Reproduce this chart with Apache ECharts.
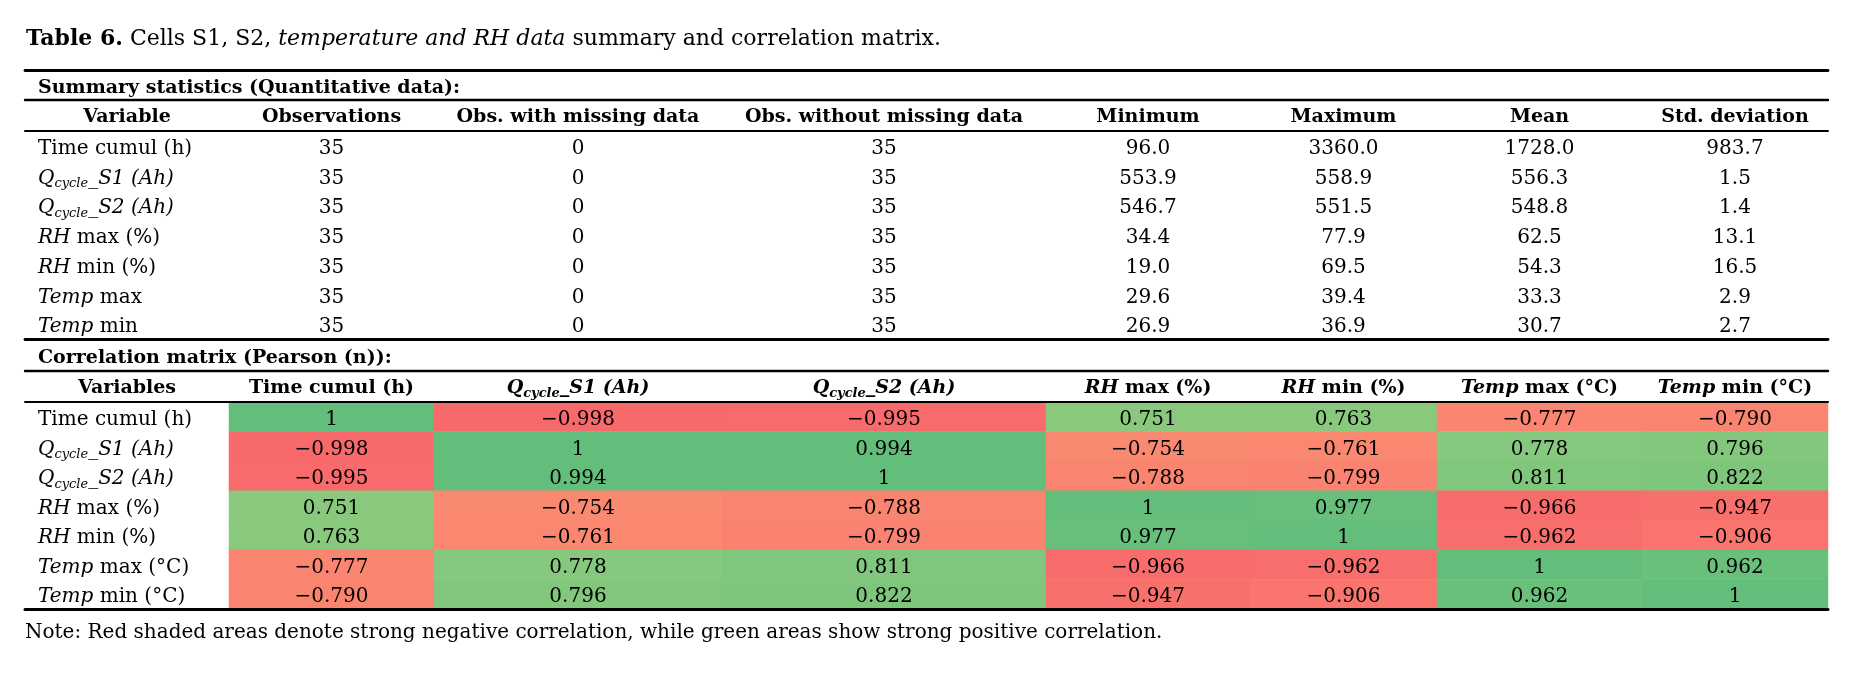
<!DOCTYPE html>
<html>
<head>
<meta charset="utf-8">
<script src="https://cdn.jsdelivr.net/npm/echarts@6/dist/echarts.min.js"></script>
<style>
html,body{margin:0;padding:0;background:#fff;}
#chart{width:1860px;height:673px;}
</style>
</head>
<body>
<div id="chart"></div>
<script>
// ---------------- data ----------------
const summaryHeaders = ['Variable', 'Observations', 'Obs. with missing data', 'Obs. without missing data', 'Minimum', 'Maximum', 'Mean', 'Std. deviation'];
const summaryVars = ['Time cumul (h)', 'Qcycle_S1 (Ah)', 'Qcycle_S2 (Ah)', 'RH max (%)', 'RH min (%)', 'Temp max', 'Temp min'];
const observations = [35, 35, 35, 35, 35, 35, 35];
const obsMissing = [0, 0, 0, 0, 0, 0, 0];
const obsWithoutMissing = [35, 35, 35, 35, 35, 35, 35];
const minimum = [96.0, 553.9, 546.7, 34.4, 19.0, 29.6, 26.9];
const maximum = [3360.0, 558.9, 551.5, 77.9, 69.5, 39.4, 36.9];
const mean = [1728.0, 556.3, 548.8, 62.5, 54.3, 33.3, 30.7];
const stdDeviation = [983.7, 1.5, 1.4, 13.1, 16.5, 2.9, 2.7];

const corrHeaderFirst = 'Variables';
const corrVars = ['Time cumul (h)', 'Qcycle_S1 (Ah)', 'Qcycle_S2 (Ah)', 'RH max (%)', 'RH min (%)', 'Temp max (°C)', 'Temp min (°C)'];
const corrTime = [1, -0.998, -0.995, 0.751, 0.763, -0.777, -0.790];
const corrQS1 = [-0.998, 1, 0.994, -0.754, -0.761, 0.778, 0.796];
const corrQS2 = [-0.995, 0.994, 1, -0.788, -0.799, 0.811, 0.822];
const corrRHmax = [0.751, -0.754, -0.788, 1, 0.977, -0.966, -0.947];
const corrRHmin = [0.763, -0.761, -0.799, 0.977, 1, -0.962, -0.906];
const corrTmax = [-0.777, 0.778, 0.811, -0.966, -0.962, 1, 0.962];
const corrTmin = [-0.790, 0.796, 0.822, -0.947, -0.906, 0.962, 1];
const corrMatrix = [corrTime, corrQS1, corrQS2, corrRHmax, corrRHmin, corrTmax, corrTmin];

const summaryTitle = 'Summary statistics (Quantitative data):';
const corrTitle = 'Correlation matrix (Pearson (n)):';
const titleText = 'Cells S1, S2, ';
const noteText = 'Note: Red shaded areas denote strong negative correlation, while green areas show strong positive correlation.';

// ---------------- layout / style ----------------
const FONT = 'DejaVu Serif';
const FS = 20;      // regular text
const FSB = 19;     // bold text
const SUB = 13;
const TFS = 22;     // caption
const COL_EDGES = [25, 229, 434, 722, 1046, 1250, 1437, 1642, 1828];
const TABLE_W = COL_EDGES[8] - COL_EDGES[0];
// vertical bands of the table (title, header+data blocks)
const BAND = {
  sumTitle: {top: 70, height: 30},
  sumData: {top: 131, height: 208},
  corTitle: {top: 339, height: 32},
  corData: {top: 402, height: 207}
};
const RULE = {top: 2.8, mid: 2.4, head: 2.0, bottom: 3.0};
const TXT_DY = 3;

const base = {fontFamily: FONT, fontSize: FS, color: '#000', lineHeight: 24, fontWeight: 'normal'};
const RICH = {
  n: Object.assign({}, base),
  i: Object.assign({}, base, {fontStyle: 'italic'}),
  s: Object.assign({}, base, {fontStyle: 'italic', fontSize: SUB, lineHeight: 16, verticalAlign: 'bottom'}),
  b: Object.assign({}, base, {fontWeight: 'bold', fontSize: FSB}),
  bi: Object.assign({}, base, {fontWeight: 'bold', fontStyle: 'italic', fontSize: FSB}),
  bs: Object.assign({}, base, {fontWeight: 'bold', fontStyle: 'italic', fontSize: SUB, lineHeight: 16, verticalAlign: 'bottom'})
};

function varMarkup(name, bold) {
  const I = bold ? 'bi' : 'i', S = bold ? 'bs' : 's', N = bold ? 'b' : 'n';
  let m;
  if ((m = name.match(/^Qcycle(_.*)$/))) return '{' + I + '|Q}{' + S + '|cycle}{' + I + '|' + m[1] + '}';
  if ((m = name.match(/^(RH|Temp)( .*)$/))) return '{' + I + '|' + m[1] + '}{' + N + '|' + m[2] + '}';
  return '{' + N + '|' + name + '}';
}
function fmtCorr(v) {
  if (v === 1) return '1';
  return (v < 0 ? '\u2212' : '') + Math.abs(v).toFixed(3);
}
const summaryCols = [observations, obsMissing, obsWithoutMissing, minimum, maximum, mean, stdDeviation];
function fmtSummary(colIdx, v) {
  return colIdx < 3 ? String(v) : v.toFixed(1);
}

const grids = [], xAxes = [], yAxes = [], series = [];
const heatIdx = [];
const hidden = {axisLine: {show: false}, axisTick: {show: false}, splitLine: {show: false}};

function addGrid(g) { grids.push(g); return grids.length - 1; }
function ruleAxis(gi, position, width) {
  xAxes.push({
    type: 'category', gridIndex: gi, position: position, data: ['rule'], z: 10,
    axisLine: {show: true, onZero: false, lineStyle: {color: '#000', width: width}},
    axisTick: {show: false}, axisLabel: {show: false}, splitLine: {show: false}
  });
  return xAxes.length - 1;
}
function textYAxis(gi, labels, showLabels) {
  yAxes.push(Object.assign({
    type: 'category', gridIndex: gi, data: labels, inverse: true, show: true,
    axisLabel: {
      show: showLabels, inside: true, margin: 13, interval: 0,
      padding: [TXT_DY * 2, 0, 0, 0], rich: RICH
    }
  }, hidden));
  return yAxes.length - 1;
}

// ---- frame bands: section titles and horizontal rules ----
[['sumTitle', '{b|' + summaryTitle + '}', [RULE.top, RULE.mid]],
 ['corTitle', '{b|' + corrTitle + '}', [RULE.top, RULE.mid]]].forEach(([key, label, w]) => {
  const gi = addGrid({left: COL_EDGES[0], width: TABLE_W, top: BAND[key].top, height: BAND[key].height});
  const xi = ruleAxis(gi, 'top', w[0]);
  ruleAxis(gi, 'bottom', w[1]);
  const yi = textYAxis(gi, [label], true);
  series.push({type: 'scatter', xAxisIndex: xi, yAxisIndex: yi, data: [], silent: true});
});
[['sumData', false], ['corData', true]].forEach(([key, withBottom]) => {
  const gi = addGrid({left: COL_EDGES[0], width: TABLE_W, top: BAND[key].top, height: BAND[key].height});
  const xi = ruleAxis(gi, 'top', RULE.head);
  if (withBottom) ruleAxis(gi, 'bottom', RULE.bottom);
  const yi = textYAxis(gi, ['frame'], false);
  series.push({type: 'scatter', xAxisIndex: xi, yAxisIndex: yi, data: [], silent: true});
});

// ---- column grids ----
for (let c = 0; c < 8; c++) {
  const left = COL_EDGES[c], width = COL_EDGES[c + 1] - COL_EDGES[c];
  // summary block
  {
    const gi = addGrid({left: left, width: width, top: BAND.sumData.top, height: BAND.sumData.height});
    xAxes.push(Object.assign({
      type: 'category', gridIndex: gi, position: 'top', data: [summaryHeaders[c]],
      axisLabel: {show: true, margin: 2, interval: 0, formatter: v => '{b|' + v + '}', rich: RICH}
    }, hidden));
    const xi = xAxes.length - 1;
    const yi = textYAxis(gi, summaryVars.map(v => varMarkup(v, false)), c === 0);
    const texts = c === 0 ? [] : summaryCols[c - 1].map((v, r) => [0, r, '{n|' + fmtSummary(c - 1, v) + '}']);
    series.push({
      type: 'scatter', xAxisIndex: xi, yAxisIndex: yi, symbolSize: 0, silent: true, z: 5,
      itemStyle: {color: 'transparent', opacity: 1},
      data: texts,
      label: {show: true, position: 'inside', offset: [0, TXT_DY], color: '#000', formatter: p => p.value[2], rich: RICH}
    });
  }
  // correlation block
  {
    const gi = addGrid({left: left, width: width, top: BAND.corData.top, height: BAND.corData.height});
    const head = c === 0 ? '{b|' + corrHeaderFirst + '}' : varMarkup(corrVars[c - 1], true);
    xAxes.push(Object.assign({
      type: 'category', gridIndex: gi, position: 'top', data: [c === 0 ? corrHeaderFirst : corrVars[c - 1]],
      axisLabel: {show: true, margin: 2, interval: 0, formatter: () => head, rich: RICH}
    }, hidden));
    const xi = xAxes.length - 1;
    const yi = textYAxis(gi, corrVars.map(v => varMarkup(v, false)), c === 0);
    if (c >= 1) {
      heatIdx.push(series.length);
      series.push({
        type: 'heatmap', xAxisIndex: xi, yAxisIndex: yi, silent: true, z: 2,
        data: corrMatrix.map((row, r) => [0, r, row[c - 1]]),
        itemStyle: {borderWidth: 0},
        label: {show: true, offset: [0, TXT_DY], formatter: p => '{n|' + fmtCorr(p.value[2]) + '}', rich: RICH}
      });
    } else {
      series.push({type: 'scatter', xAxisIndex: xi, yAxisIndex: yi, data: [], silent: true});
    }
  }
}

const option = {
  backgroundColor: '#fff',
  animation: false,
  title: [
    {left: 26, top: 28, padding: 0,
      text: '{b|Table 6.}{n| ' + titleText + '}{i|temperature and RH data}{n| summary and correlation matrix.}',
      textStyle: {fontWeight: 'normal', rich: {
        n: {fontFamily: FONT, fontSize: TFS, color: '#000', fontWeight: 'normal'},
        i: {fontFamily: FONT, fontSize: TFS, color: '#000', fontStyle: 'italic', fontWeight: 'normal'},
        b: {fontFamily: FONT, fontSize: TFS, color: '#000', fontWeight: 'bold'}
      }}},
    {left: 25, top: 623, padding: 0, text: noteText, textStyle: {fontFamily: FONT, fontSize: FS, fontWeight: 'normal', color: '#000'}}
  ],
  grid: grids,
  xAxis: xAxes,
  yAxis: yAxes,
  visualMap: {
    type: 'continuous', show: false, min: -1, max: 1, dimension: 2,
    seriesIndex: heatIdx,
    inRange: {color: ['#F8696B', '#FFEB84', '#63BE7B']}
  },
  series: series
};
const chart = echarts.init(document.getElementById('chart'), null, {renderer: 'canvas'});
chart.setOption(option);
</script>
</body>
</html>
